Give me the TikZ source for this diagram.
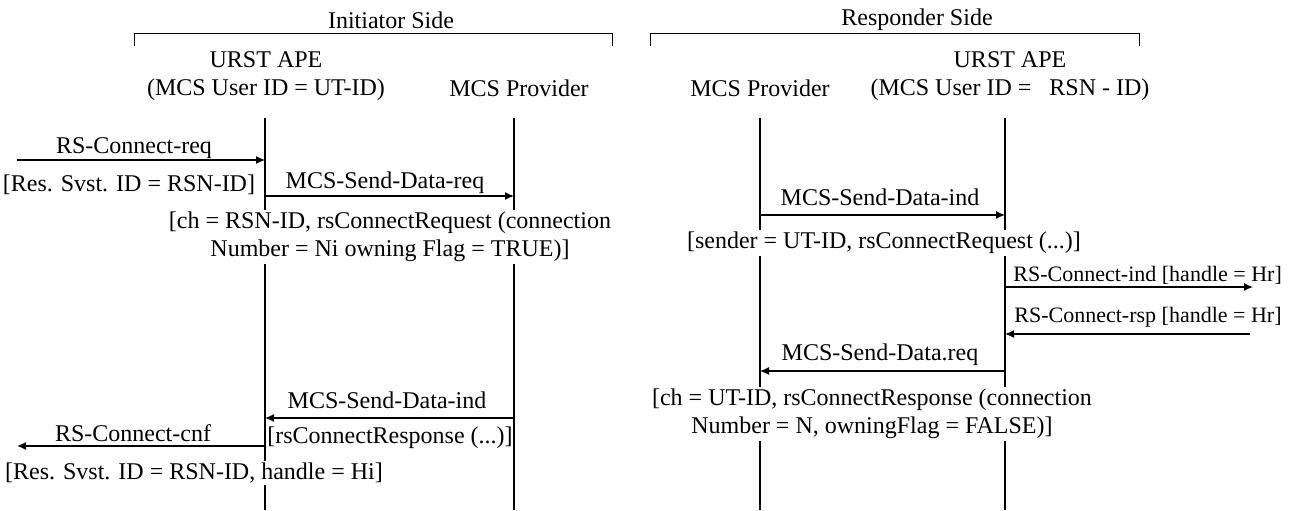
\documentclass[tikz,border=0pt]{standalone}
\usepackage{fontspec}
\setmainfont{Liberation Serif}
\usetikzlibrary{arrows.meta}

\begin{document}
\begin{tikzpicture}[x=0.5pt, y=-0.5pt, font=\fontsize{12}{14}\selectfont]
\tikzstyle{actor} = [align=center, inner sep=0pt]
\tikzstyle{lifeline} = [line width=1.1pt]
\tikzstyle{msg} = [inner sep=0pt]
\tikzstyle{small} = [inner sep=0pt, anchor=west, font=\fontsize{11}{13}\selectfont]
\tikzstyle{param} = [align=center, fill=white, inner sep=1pt]
\tikzstyle{arrow} = [line width=0.7pt, -{Latex[length=4.5pt, width=4pt]}]
\tikzstyle{bracket} = [line width=0.5pt]

\useasboundingbox (0,0) rectangle (1297,510);

% sides
\node (initSide) [actor] at (391,20) {Initiator Side};
\node (respSide) [actor] at (917,20) {Responder Side};
\draw [bracket] (134,46) -- (134,33) -- (612,33) -- (612,46);
\draw [bracket] (650,46) -- (650,33) -- (1139,33) -- (1139,46);

% actors
\node (apeI) [actor] at (266,76) {URST APE\\(MCS User ID = UT-ID)};
\node (provI) [actor] at (519,88) {MCS Provider};
\node (provR) [actor] at (760,88) {MCS Provider};
\node (apeR) [actor] at (1010,76) {URST APE\\(MCS User ID = \ \ RSN - ID)};

% lifelines
\coordinate (apeItop) at (265,118);  \coordinate (apeIbot) at (265,510);
\coordinate (provItop) at (514,118); \coordinate (provIbot) at (514,510);
\coordinate (provRtop) at (760,118); \coordinate (provRbot) at (760,510);
\coordinate (apeRtop) at (1005,118); \coordinate (apeRbot) at (1005,510);
\draw [lifeline] (apeItop) -- (apeIbot);
\draw [lifeline] (provItop) -- (provIbot);
\draw [lifeline] (provRtop) -- (provRbot);
\draw [lifeline] (apeRtop) -- (apeRbot);

% connect request
\coordinate (reqIn) at (17,160);   \coordinate (reqApe) at (265,160);
\draw [arrow] (reqIn) -- (reqApe);
\node (reqLbl) [msg] at (134,148) {RS-Connect-req};
\node (reqPar) [msg] at (129,185) {[Res. Svst. ID = RSN-ID]};

\coordinate (sdrA) at (265,196);   \coordinate (sdrB) at (514,196);
\draw [arrow] (sdrA) -- (sdrB);
\node (sdrLbl) [msg] at (385,183) {MCS-Send-Data-req};
\node (sdrPar) [param] at (390,237) {[ch = RSN-ID, rsConnectRequest (connection\\Number = Ni owning Flag = TRUE)]};

\coordinate (sdiA) at (760,215);   \coordinate (sdiB) at (1005,215);
\draw [arrow] (sdiA) -- (sdiB);
\node (sdiLbl) [msg] at (880,197) {MCS-Send-Data-ind};
\node (sdiPar) [param] at (884,243) {[sender = UT-ID, rsConnectRequest (...)]};

\coordinate (indA) at (1005,287);  \coordinate (indOut) at (1253,287);
\draw [arrow] (indA) -- (indOut);
\node (indLbl) [small] at (1013,275) {RS-Connect-ind [handle = Hr]};

% connect response
\coordinate (rspIn) at (1250,334); \coordinate (rspA) at (1005,334);
\draw [arrow] (rspIn) -- (rspA);
\node (rspLbl) [small] at (1014,317) {RS-Connect-rsp [handle = Hr]};

\coordinate (sdqA) at (1005,371);  \coordinate (sdqB) at (760,371);
\draw [arrow] (sdqA) -- (sdqB);
\node (sdqLbl) [msg] at (880,355) {MCS-Send-Data.req};
\node (sdqPar) [param] at (872,414) {[ch = UT-ID, rsConnectResponse (connection\\Number = N, owningFlag = FALSE)]};

\coordinate (sdbA) at (514,418);   \coordinate (sdbB) at (265,418);
\draw [arrow] (sdbA) -- (sdbB);
\node (sdbLbl) [msg] at (387,400) {MCS-Send-Data-ind};
\node (sdbPar) [msg] at (390,438) {[rsConnectResponse (...)]};

\coordinate (cnfA) at (265,446);   \coordinate (cnfOut) at (17,446);
\draw [arrow] (cnfA) -- (cnfOut);
\node (cnfLbl) [msg] at (133,433) {RS-Connect-cnf};
\node (cnfPar) [param] at (194,473) {[Res. Svst. ID = RSN-ID, handle = Hi]};
\end{tikzpicture}
\end{document}
